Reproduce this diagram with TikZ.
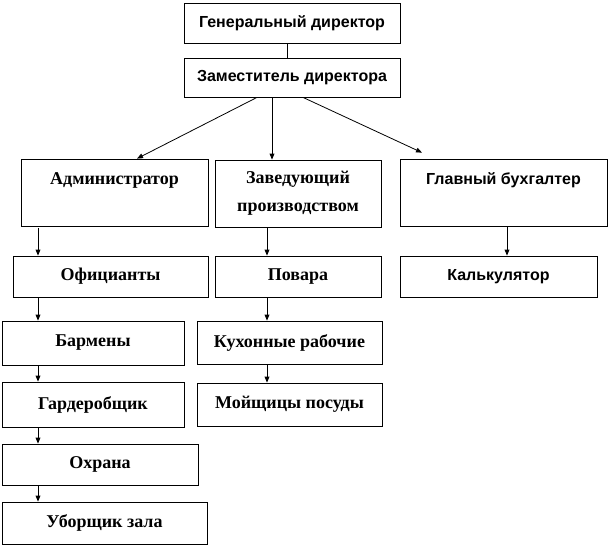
\documentclass[tikz,border=0pt]{standalone}
\usepackage{fontspec}
\setmainfont{Liberation Serif}
\newfontfamily\headfont{Liberation Sans}
\usetikzlibrary{arrows.meta}
\usetikzlibrary{calc}

\tikzset{
  unit/.style={draw, line width=0.6pt, rectangle, inner sep=0pt, align=center,
    font=\fontsize{13.5}{21}\selectfont\bfseries},
  head/.style={unit, font=\headfont\fontsize{12}{14}\selectfont\bfseries},
  arr/.style={line width=0.6pt, -{Triangle[length=4.5pt,width=3.6pt]}}
}

\begin{document}
\begin{tikzpicture}[x=0.75pt, y=0.75pt]
              \useasboundingbox (0, 0) rectangle (611, -547);
              % top
              \node[head, minimum width=162pt, minimum height=30pt] (gen) at (292, -23) {Генеральный директор};
              \node[head, minimum width=162pt, minimum height=29.25pt] (zam) at (292, -77.5) {Заместитель директора};
              % second row
              \node[unit, minimum width=140.25pt, minimum height=50.25pt] (admin) at (114.5, -192.5) {Администратор\\[0pt]\mbox{}};
              \node[unit, minimum width=124.5pt, minimum height=50.25pt] (zav) at (298, -193.5) {Заведующий\\ производством};
              \node[head, minimum width=155.25pt, minimum height=50.25pt, font=\headfont\fontsize{12}{21}\selectfont\bfseries] (glbuh) at (503.5, -192.5) {Главный бухгалтер\\ \mbox{}};
              % third row
              \node[unit, minimum width=146.25pt, minimum height=30.75pt] (ofic) at (110.5, -276.5) {Официанты};
              \node[unit, minimum width=124.5pt, minimum height=30.75pt] (povar) at (298, -276.5) {Повара};
              \node[head, minimum width=147.75pt, minimum height=30.75pt] (kalk) at (498.5, -276.5) {Калькулятор};
              % lower rows
              \node[unit, minimum width=136.5pt, minimum height=33pt] (barm) at (93, -343) {Бармены};
              \node[unit, minimum width=138.75pt, minimum height=32.25pt] (kuhn) at (289.5, -342.5) {Кухонные рабочие};
              \node[unit, minimum width=136.5pt, minimum height=33.75pt] (gard) at (93, -404.5) {Гардеробщик};
              \node[unit, minimum width=138.75pt, minimum height=32.25pt] (moy) at (289.5, -404.5) {Мойщицы посуды};
              \node[unit, minimum width=147pt, minimum height=30.75pt] (ohr) at (100, -464.5) {Охрана};
              \node[unit, minimum width=153.75pt, minimum height=31.5pt] (ubor) at (104.5, -523) {Уборщик зала};
              % columns of the arrows
              \coordinate (lcol) at (38, 0);
              \coordinate (mcol) at (267, 0);
              \coordinate (rcol) at (507, 0);
              \draw[line width=0.6pt] (gen.south -| 287, 0) -- (zam.north -| 287, 0);
              \draw[arr] ($(zam.south)+(-35, 0)$) -- ($(admin.north)+(22.5, 0)$);
              \draw[arr] ($(zam.south)+(-20, 0)$) -- ($(zav.north)+(-26, 0)$);
              \draw[arr] ($(zam.south)+(11, 0)$) -- ($(glbuh.north)+(-81.5, 6)$);
              \draw[arr] ([yshift=-1.5pt]admin.south -| lcol) -- (ofic.north -| lcol);
              \draw[arr] (ofic.south -| lcol) -- (barm.north -| lcol);
              \draw[arr] (barm.south -| lcol) -- (gard.north -| lcol);
              \draw[arr] (gard.south -| lcol) -- (ohr.north -| lcol);
              \draw[arr] (ohr.south -| lcol) -- (ubor.north -| lcol);
              \draw[arr] (zav.south -| mcol) -- (povar.north -| mcol);
              \draw[arr] (povar.south -| mcol) -- (kuhn.north -| mcol);
              \draw[arr] (kuhn.south -| mcol) -- (moy.north -| mcol);
              \draw[arr] (glbuh.south -| rcol) -- (kalk.north -| rcol);
            \end{tikzpicture}
\end{document}
